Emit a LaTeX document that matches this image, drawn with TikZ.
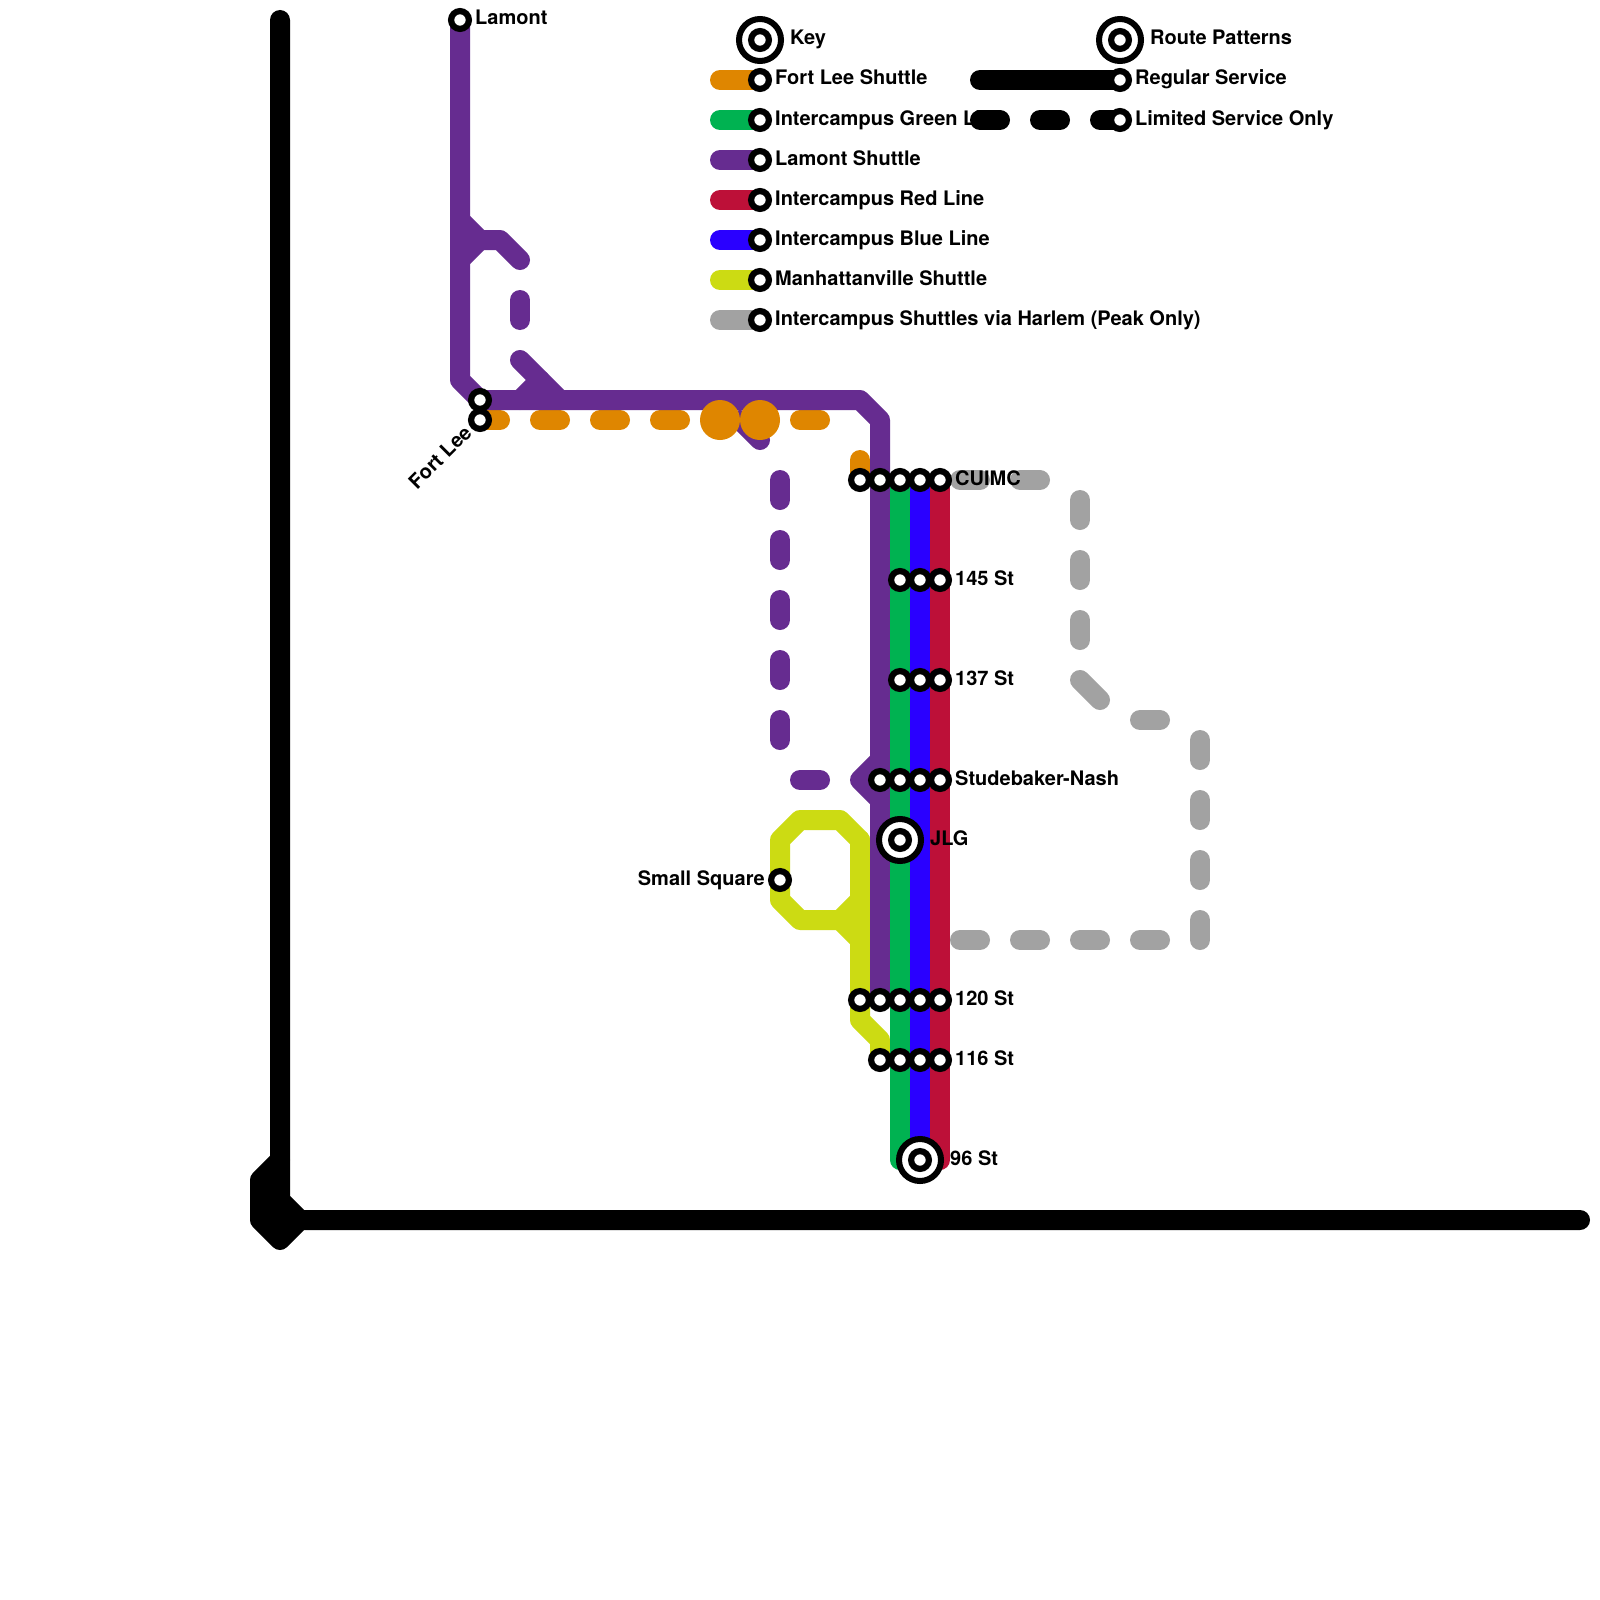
\documentclass[tikz,border=0pt]{standalone}
\usepackage{fontspec}
\setmainfont{TeX Gyre Heros}
\definecolor{cOrange}{HTML}{DF8600}
\definecolor{cGreen}{HTML}{00B251}
\definecolor{cPurple}{HTML}{662C90}
\definecolor{cRed}{HTML}{BD1038}
\definecolor{cBlue}{HTML}{2A00FF}
\definecolor{cYellow}{HTML}{CCDB13}
\definecolor{cGray}{HTML}{A2A2A2}
\tikzset{
  x=1pt,y=-1pt,
  metro/.style={line width=20pt,line cap=round,line join=round},
  stn/.style={circle,draw=black,fill=white,line width=6.2pt,minimum size=17.8pt,inner sep=0pt,outer sep=0pt},
  hub/.style={circle,draw=black,fill=white,line width=6pt,minimum size=42pt,inner sep=0pt,outer sep=0pt},
  lab/.style={font=\fontsize{20}{24}\selectfont\bfseries,anchor=base west,inner sep=0pt,text=black},
  dot/.style={circle,fill=cOrange,minimum size=40pt,inner sep=0pt,outer sep=0pt}
}
\begin{document}
\begin{tikzpicture}
\useasboundingbox (0,0) rectangle (1600,1600);
\fill[white] (0,0) rectangle (1600,1600);
% anchors
\coordinate (pLamont) at (460,20);
\coordinate (pFortA) at (480,400);
\coordinate (pFortB) at (480,420);
\coordinate (pSmall) at (780,880);
\coordinate (pJLG) at (900,840);
\coordinate (pNinety) at (920,1160);
\foreach \n/\x in {p/880,g/900,b/920,r/940}{
  \foreach \y in {480,580,680,780,1000,1060}{\coordinate (\n\y) at (\x,\y);}
}
\coordinate (o480) at (860,480);
\coordinate (o1000) at (860,1000);
% black frame
\draw[metro,black] (280,20) -- (280,1160) -- (260,1180) -- (260,1220) -- (280,1240) -- (300,1220) -- (1580,1220);
\draw[metro,black] (280,1160) -- (280,1200) -- (300,1220);
\fill[black] (260,1180) -- (280,1160) -- (280,1200) -- (300,1220) -- (280,1240) -- (260,1220) -- cycle;
% yellow
\draw[metro,cYellow] (860,840) -- (840,820) -- (800,820) -- (780,840) -- (pSmall) -- (780,900) -- (800,920) -- (840,920) -- (860,900);
\draw[metro,cYellow] (840,920) -- (860,940);
\draw[metro,cYellow] (860,840) -- (o1000) -- (860,1020) -- (880,1040) -- (p1060);
% orange
\draw[metro,cOrange] (pFortB) -- (500,420);
\foreach \a/\b in {540/560,600/620,660/680,800/820}{\draw[metro,cOrange] (\a,420) -- (\b,420);}
\draw[metro,cOrange] (860,460) -- (o480);
% purple
\draw[metro,cPurple] (740,420) -- (760,440);
\draw[metro,cPurple] (pLamont) -- (460,380) -- (pFortA) -- (860,400) -- (880,420) -- (p1000);
\draw[metro,cPurple] (460,220) -- (480,240) -- (500,240) -- (520,260);
\draw[metro,cPurple] (460,260) -- (480,240);
\draw[metro,cPurple] (520,300) -- (520,320);
\draw[metro,cPurple] (520,360) -- (560,400);
\draw[metro,cPurple] (540,380) -- (520,400);
\foreach \a/\b in {480/500,540/560,600/620,660/680,720/740}{\draw[metro,cPurple] (780,\a) -- (780,\b);}
\draw[metro,cPurple] (800,780) -- (820,780);
\draw[metro,cPurple] (880,760) -- (860,780) -- (880,800);
% orange interchange dots
\node[dot] (dotA) at (720,420) {};
\node[dot] (dotB) at (760,420) {};
% green blue red
\draw[metro,cGreen] (g480) -- (900,1160);
\draw[metro,cRed] (r480) -- (940,1160);
\draw[metro,cBlue] (b480) -- (pNinety);
% gray
\foreach \a/\b in {960/980,1020/1040}{\draw[metro,cGray] (\a,480) -- (\b,480);}
\foreach \a/\b in {500/520,560/580,620/640}{\draw[metro,cGray] (1080,\a) -- (1080,\b);}
\draw[metro,cGray] (1080,680) -- (1100,700);
\draw[metro,cGray] (1140,720) -- (1160,720);
\foreach \a/\b in {740/760,800/820,860/880,920/940}{\draw[metro,cGray] (1200,\a) -- (1200,\b);}
\foreach \a/\b in {960/980,1020/1040,1080/1100,1140/1160}{\draw[metro,cGray] (\a,940) -- (\b,940);}
% legend
\foreach \y/\c in {80/cOrange,120/cGreen,160/cPurple,200/cRed,240/cBlue,280/cYellow,320/cGray}{
  \coordinate (sw\y) at (720,\y);
  \coordinate (se\y) at (760,\y);
  \draw[metro,\c] (sw\y) -- (se\y);
}
\node[lab] (tKey) at (790,45) {Key};
\node[lab] (tFortLee) at (775,85) {Fort Lee Shuttle};
\node[lab] (tGreen) at (775,125) {Intercampus Green Line};
\node[lab] (tLamontS) at (775,165) {Lamont Shuttle};
\node[lab] (tRed) at (775,205) {Intercampus Red Line};
\node[lab] (tBlue) at (775,245) {Intercampus Blue Line};
\node[lab] (tManh) at (775,285) {Manhattanville Shuttle};
\node[lab] (tHarlem) at (775,325) {Intercampus Shuttles via Harlem (Peak Only)};
\node[lab] (tRoute) at (1150,45) {Route Patterns};
\node[lab] (tReg) at (1135,85) {Regular Service};
\node[lab] (tLim) at (1135,125) {Limited Service Only};
% route pattern samples
\coordinate (kRegA) at (980,80);
\coordinate (kRegB) at (1120,80);
\coordinate (kLimA) at (1120,120);
\draw[metro,black] (kRegA) -- (kRegB);
\draw[metro,black] (980,120) -- (1000,120);
\draw[metro,black] (1040,120) -- (1060,120);
\draw[metro,black] (1100,120) -- (kLimA);
% stations
\node[hub] (hKey) at (760,40) {};
\node[stn] (sKey) at (760,40) {};
\node[hub] (hRoute) at (1120,40) {};
\node[stn] (sRoute) at (1120,40) {};
\foreach \y in {80,120,160,200,240,280,320}{\node[stn] (leg\y) at (se\y) {};}
\node[stn] (sReg) at (kRegB) {};
\node[stn] (sLim) at (kLimA) {};
\node[stn] (sLamont) at (pLamont) {};
\node[stn] (sFortA) at (pFortA) {};
\node[stn] (sFortB) at (pFortB) {};
\node[stn] (sSmall) at (pSmall) {};
\foreach \n/\y in {a/480,b/580,c/680,d/780,e/1000,f/1060}{
  \node[stn] (sG\n) at (g\y) {};
  \node[stn] (sB\n) at (b\y) {};
  \node[stn] (sR\n) at (r\y) {};
}
\foreach \n/\y in {a/480,d/780,e/1000,f/1060}{\node[stn] (sP\n) at (p\y) {};}
\node[stn] (sOa) at (o480) {};
\node[stn] (sOe) at (o1000) {};
\node[hub] (hJLG) at (pJLG) {};
\node[stn] (sJLG) at (pJLG) {};
\node[hub] (hNinety) at (pNinety) {};
\node[stn] (sNinety) at (pNinety) {};
% station labels
\node[lab] (tLamont) at (475,25) {Lamont};
\node[lab,anchor=base east,rotate=45] (tFort) at (473,434) {Fort Lee};
\node[lab,anchor=base east] (tSmall) at (765,885) {Small Square};
\node[lab] (tCUIMC) at (955,485) {CUIMC};
\node[lab] (t145) at (955,585) {145 St};
\node[lab] (t137) at (955,685) {137 St};
\node[lab] (tStude) at (955,785) {Studebaker-Nash};
\node[lab] (tJLG) at (930,845) {JLG};
\node[lab] (t120) at (955,1005) {120 St};
\node[lab] (t116) at (955,1065) {116 St};
\node[lab] (t96) at (950,1165) {96 St};
\end{tikzpicture}
\end{document}
